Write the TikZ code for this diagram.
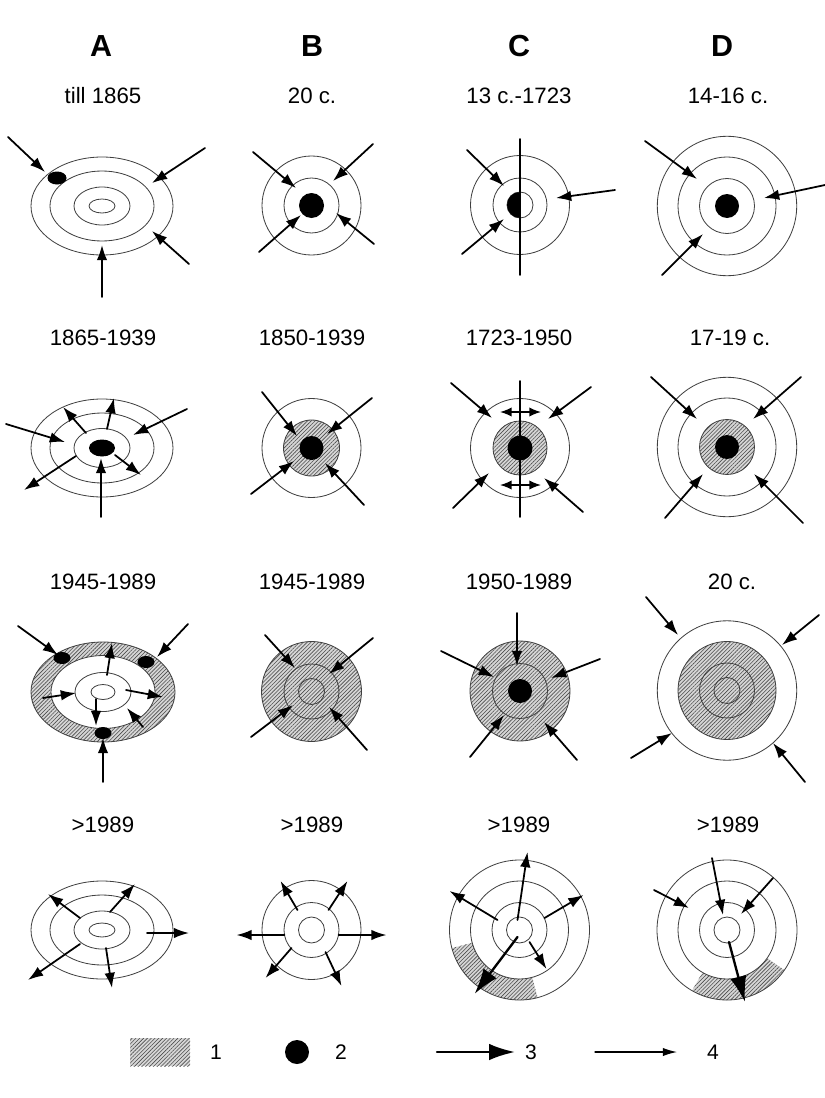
\documentclass[tikz,border=0pt]{standalone}
\usepackage{fontspec}
\setmainfont{Liberation Sans}
\usetikzlibrary{arrows.meta,patterns.meta}
\begin{document}
\begin{tikzpicture}[x=0.03cm,y=-0.03cm,line join=round,line cap=round]
\tikzset{
  ring/.style={draw=black!75,line width=0.7pt},
  hatch/.style={preaction={fill=black!16},pattern={Lines[angle=45,distance=2.3pt,line width=0.5pt]},pattern color=black!70},
  flow/.style={-{Latex[length=13pt,width=9pt]},line width=1.5pt},
  bigflow/.style={-{Latex[length=22pt,width=14pt]},line width=2pt},
  thinflow/.style={-{Latex[length=12pt,width=7pt]},line width=1pt},
  twoway/.style={{Latex[length=10pt,width=8pt]}-{Latex[length=10pt,width=8pt]},line width=1.3pt},
  axis/.style={line width=1.4pt},
  hdr/.style={font=\bfseries\fontsize{26}{30}\selectfont},
  lbl/.style={font=\fontsize{19}{22}\selectfont},
  num/.style={font=\fontsize{18}{20}\selectfont}
}
\useasboundingbox (0,0) rectangle (825,1098);
\foreach \name/\x in {A/101,B/312,C/519,D/722}
  \node[hdr] (head\name) at (\x,46) {\name};
\foreach \name/\x/\y/\txt in {a1/103/96/till 1865,b1/312/96/20 c.,c1/519/96/13 c.-1723,d1/728/96/14-16 c.,
  a2/103/338/1865-1939,b2/312/338/1850-1939,c2/519/338/1723-1950,d2/730/338/17-19 c.,
  a3/103/582/1945-1989,b3/312/582/1945-1989,c3/519/582/1950-1989,d3/732/582/20 c.,
  a4/103/825/>1989,b4/312/825/>1989,c4/519/825/>1989,d4/728/825/>1989}
  \node[lbl] (t\name) at (\x,\y) {\txt};
\begin{scope}[shift={(102,206)}]
  \foreach \rx/\ry in {71/49,52/35,28/19,13/7}
    \draw[ring] (0,0) ellipse[x radius=\rx,y radius=\ry];
  \fill (-45,-28) ellipse[x radius=9.5,y radius=6.5];
  \draw[flow] (-94,-69) -- (-57,-34);
  \draw[flow] (103,-58) -- (50,-23);
  \draw[flow] (87,58) -- (50,25);
  \draw[flow] (0,91) -- (0,39);
\end{scope}
\begin{scope}[shift={(311.5,205.5)}]
  \draw[ring] (0,0) circle[radius=49.5] (0,0) circle[radius=27.5];
  \fill (0,0) circle[radius=12.5];
  \draw[flow] (-58.5,-53.5) -- (-15.5,-17.5);
  \draw[flow] (61.5,-61.5) -- (21.5,-24.5);
  \draw[flow] (-52.5,46.5) -- (-10.5,9.5);
  \draw[flow] (62.5,38.5) -- (24.5,7.5);
\end{scope}
\begin{scope}[shift={(520,205)}]
  \draw[ring] (0,0) circle[radius=49.5] (0,0) circle[radius=27] (0,0) circle[radius=13];
  \begin{scope}
    \clip (-14,-14) rectangle (0,14);
    \fill (0,0) circle[radius=13];
  \end{scope}
  \draw[axis] (0,-66) -- (0,70);
  \draw[flow] (-53,-55) -- (-16,-19);
  \draw[flow] (-58,49) -- (-16,14);
  \draw[flow] (95,-15) -- (36,-7);
\end{scope}
\begin{scope}[shift={(727,206)}]
  \draw[ring] (0,0) circle[radius=69.7] (0,0) circle[radius=49] (0,0) circle[radius=27.5];
  \fill (0,0) circle[radius=12];
  \draw[flow] (-82,-65) -- (-30,-27);
  \draw[flow] (-65,69) -- (-24,28);
  \draw[flow] (98,-21) -- (37,-8);
\end{scope}
\begin{scope}[shift={(102,448)}]
  \foreach \rx/\ry in {71/49,52/35,28/19.5}
    \draw[ring] (0,0) ellipse[x radius=\rx,y radius=\ry];
  \fill (0,0) ellipse[x radius=13,y radius=8.5];
  \draw[flow] (-96,-24) -- (-37,-6);
  \draw[flow] (85,-39) -- (31,-13);
  \draw[flow] (-1,69) -- (-1,10);
  \draw[flow] (-16,-15) -- (-39,-41);
  \draw[flow] (5,-19) -- (12,-50);
  \draw[flow] (-26,8) -- (-78,42);
  \draw[flow] (13,7) -- (39,27);
\end{scope}
\begin{scope}[shift={(311.5,448)}]
  \fill[hatch] (0,0) circle[radius=28];
  \draw[ring] (0,0) circle[radius=49.5] (0,0) circle[radius=28];
  \fill (0,0) circle[radius=12];
  \draw[flow] (-49.5,-56) -- (-14.5,-12);
  \draw[flow] (60.5,-50) -- (15.5,-14);
  \draw[flow] (-60.5,46) -- (-17.5,13);
  \draw[flow] (52.5,57) -- (13.5,15);
\end{scope}
\begin{scope}[shift={(520,448)}]
  \fill[hatch] (0,0) circle[radius=27];
  \draw[ring] (0,0) circle[radius=49.5] (0,0) circle[radius=27];
  \fill (0,0) circle[radius=12.5];
  \draw[axis] (0,-67) -- (0,69);
  \draw[twoway] (-20,-36) -- (21,-36);
  \draw[twoway] (-20,37) -- (21,37);
  \draw[flow] (-69,-65) -- (-28,-30);
  \draw[flow] (71,-61) -- (28,-29);
  \draw[flow] (-67,60) -- (-31,25);
  \draw[flow] (63,64) -- (24,30);
\end{scope}
\begin{scope}[shift={(727,447)}]
  \fill[hatch] (0,0) circle[radius=27.5];
  \draw[ring] (0,0) circle[radius=69.7] (0,0) circle[radius=49] (0,0) circle[radius=27.5];
  \fill (0,0) circle[radius=12];
  \draw[flow] (-76,-70) -- (-30,-28);
  \draw[flow] (74,-70) -- (26,-28);
  \draw[flow] (-62,71) -- (-24,27);
  \draw[flow] (76,76) -- (27,27);
\end{scope}
\begin{scope}[shift={(103,692)}]
  \fill[hatch] (0,0) ellipse[x radius=72,y radius=50];
  \fill[white] (0,0) ellipse[x radius=52,y radius=36.5];
  \foreach \rx/\ry in {72/50,52/36.5,28/19.5,12/7.5}
    \draw[ring] (0,0) ellipse[x radius=\rx,y radius=\ry];
  \foreach \p in {(-41,-34),(43,-30),(0,41)}
    \fill \p ellipse[x radius=8.5,y radius=6];
  \draw[flow] (-85,-66) -- (-45,-37);
  \draw[flow] (85,-68) -- (54,-35);
  \draw[flow] (0,90) -- (0,46);
  \draw[flow] (4,-17) -- (9,-49);
  \draw[flow] (-60,6) -- (-27,1);
  \draw[flow] (23,-2) -- (60,5);
  \draw[flow] (-7,7) -- (-7,34);
  \draw[flow] (40,35) -- (24,16);
\end{scope}
\begin{scope}[shift={(311.5,691.5)}]
  \fill[hatch] (0,0) circle[radius=50];
  \draw[ring] (0,0) circle[radius=50] (0,0) circle[radius=27.5] (0,0) circle[radius=13];
  \draw[flow] (-46.5,-56.5) -- (-16.5,-23.5);
  \draw[flow] (61.5,-53.5) -- (17.5,-17.5);
  \draw[flow] (-60.5,45.5) -- (-18.5,13.5);
  \draw[flow] (55.5,58.5) -- (17.5,15.5);
\end{scope}
\begin{scope}[shift={(520,691)}]
  \fill[hatch] (0,0) circle[radius=50];
  \draw[ring] (0,0) circle[radius=50] (0,0) circle[radius=27.5];
  \fill (0,0) circle[radius=12];
  \draw[flow] (-3,-78) -- (-3,-25);
  \draw[flow] (-79,-40) -- (-26,-14);
  \draw[flow] (80,-32) -- (31,-13);
  \draw[flow] (-50,66) -- (-16,24);
  \draw[flow] (57,69) -- (24,31);
\end{scope}
\begin{scope}[shift={(727,690.5)}]
  \fill[hatch] (0,0) circle[radius=49];
  \draw[ring] (0,0) circle[radius=69.7] (0,0) circle[radius=49] (0,0) circle[radius=27.5] (0,0) circle[radius=13];
  \draw[flow] (-81,-93.5) -- (-49,-55.5);
  \draw[flow] (92,-75.5) -- (55,-45.5);
  \draw[flow] (-96,67.5) -- (-55,42.5);
  \draw[flow] (78,91.5) -- (46,52.5);
\end{scope}
\begin{scope}[shift={(102,930)}]
  \foreach \rx/\ry in {71/49,52/35,28/19,13/7}
    \draw[ring] (0,0) ellipse[x radius=\rx,y radius=\ry];
  \draw[flow] (-22,-12) -- (-54,-36);
  \draw[flow] (8,-18) -- (33,-46);
  \draw[flow] (45,3) -- (87,3);
  \draw[flow] (-22,14) -- (-74,50);
  \draw[flow] (4,18) -- (10,58);
\end{scope}
\begin{scope}[shift={(311.5,930)}]
  \draw[ring] (0,0) circle[radius=49.5] (0,0) circle[radius=27.5] (0,0) circle[radius=13];
  \draw[flow] (-14,-20) -- (-31,-49);
  \draw[flow] (17,-20) -- (36,-49);
  \draw[flow] (-27,5) -- (-75,5);
  \draw[flow] (27,5) -- (75,5);
  \draw[flow] (-20,18) -- (-46,48);
  \draw[flow] (14,22) -- (30,56);
\end{scope}
\begin{scope}[shift={(519.5,930)}]
  \fill[hatch] (75:49) arc[start angle=75,end angle=165,radius=49]
    -- (165:70) arc[start angle=165,end angle=75,radius=70] -- cycle;
  \draw[ring] (0,0) circle[radius=70] (0,0) circle[radius=49] (0,0) circle[radius=27.5] (0,0) circle[radius=13];
  \draw[bigflow] (-2,7) -- (-45,64);
  \draw[flow] (-2,-10) -- (8,-78);
  \draw[flow] (-22,-10) -- (-70,-39);
  \draw[flow] (25,-12) -- (64,-35);
  \draw[flow] (10,12) -- (27,39);
\end{scope}
\begin{scope}[shift={(727,930)}]
  \fill[hatch] (35:49) arc[start angle=35,end angle=120,radius=49]
    -- (120:70) arc[start angle=120,end angle=35,radius=70] -- cycle;
  \draw[ring] (0,0) circle[radius=70] (0,0) circle[radius=49] (0,0) circle[radius=27.5] (0,0) circle[radius=13];
  \draw[flow] (-73,-40) -- (-38,-22);
  \draw[flow] (-15,-72) -- (-4,-15);
  \draw[flow] (46,-52) -- (14,-16);
  \draw[bigflow] (2,12) -- (18,72);
\end{scope}
\fill[hatch] (130,1038) rectangle (190,1066);
\node[num] (key1) at (216,1052) {1};
\fill (297,1052) circle[radius=12];
\node[num] (key2) at (341,1052) {2};
\draw[bigflow] (437,1052) -- (515,1052);
\node[num] (key3) at (531,1052) {3};
\draw[thinflow] (595,1052) -- (677,1052);
\node[num] (key4) at (713,1052) {4};
\end{tikzpicture}
\end{document}
